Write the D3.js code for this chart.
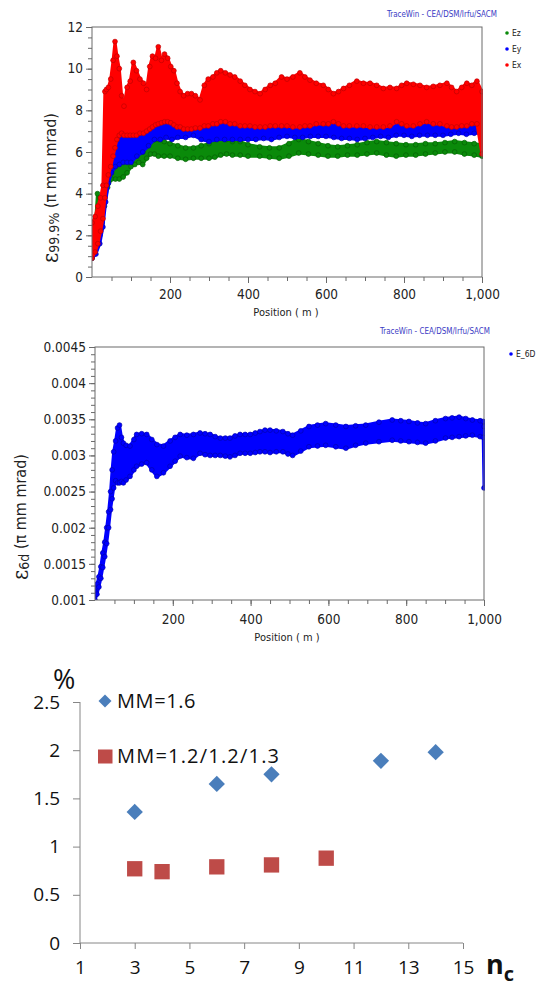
<!DOCTYPE html>
<html>
<head>
<meta charset="utf-8">
<script src="https://cdn.jsdelivr.net/npm/d3@7"></script>
<style>
  html, body { margin: 0; padding: 0; background: #fff; }
  svg { display: block; }
  .tw text { font-family: "DejaVu Sans Condensed", "DejaVu Sans", sans-serif; font-stretch: condensed; fill: #222; }
  .xl text { font-family: "Open Sans", "Noto Sans", sans-serif; fill: #111; }
</style>
</head>
<body>
<svg id="chart" width="538" height="988"></svg>
<script>
// ---------- Emittance envelopes along the linac: [position (m), min, max] ----------
const ezBand = [
  [0, 0.9, 1.5], [8, 1.2, 2.3], [14, 1.6, 4.0], [20, 2.0, 3.8], [26, 2.6, 3.4],
  [32, 3.4, 4.2], [40, 4.3, 5.0], [50, 4.7, 5.4], [60, 4.7, 5.6], [70, 4.7, 5.6],
  [80, 4.8, 5.7], [90, 5.0, 5.7], [100, 5.3, 5.8], [110, 5.4, 5.9], [120, 5.5, 6.0],
  [130, 5.4, 6.0], [140, 5.7, 6.4], [150, 5.9, 6.5], [160, 5.9, 6.6], [170, 5.8, 6.6],
  [185, 5.8, 6.5], [200, 5.8, 6.4], [220, 5.7, 6.3], [240, 5.65, 6.2], [260, 5.7, 6.2],
  [280, 5.7, 6.3], [300, 5.7, 6.4], [315, 5.75, 6.6], [330, 5.85, 6.8], [345, 5.9, 6.6],
  [360, 5.85, 6.5], [380, 5.85, 6.5], [400, 5.8, 6.35], [430, 5.8, 6.25], [455, 5.75, 6.2],
  [480, 5.7, 6.2], [505, 5.8, 6.4], [530, 5.95, 6.6], [555, 5.9, 6.5], [580, 5.85, 6.4],
  [605, 5.8, 6.3], [630, 5.8, 6.25], [655, 5.85, 6.3], [680, 5.85, 6.35], [705, 5.9, 6.45],
  [730, 5.95, 6.5], [755, 5.85, 6.45], [780, 5.8, 6.4], [805, 5.85, 6.35], [830, 5.85, 6.35],
  [855, 5.9, 6.4], [880, 5.95, 6.4], [905, 6.0, 6.45], [930, 6.0, 6.5], [955, 5.9, 6.45],
  [980, 5.85, 6.4], [1000, 5.8, 6.35]
];

const eyBand = [
  [0, 0.9, 1.6], [10, 1.1, 2.0], [20, 1.6, 2.8], [28, 2.4, 3.8], [35, 3.6, 5.0],
  [42, 4.5, 6.2], [50, 5.0, 6.8], [60, 5.3, 7.0], [70, 5.4, 7.0], [80, 5.5, 7.1],
  [90, 5.5, 7.0], [100, 5.5, 6.9], [115, 5.8, 7.2], [130, 6.0, 7.4], [145, 6.3, 7.6],
  [160, 6.6, 7.8], [175, 6.6, 7.9], [190, 6.7, 8.0], [205, 6.6, 7.7], [220, 6.7, 7.6],
  [240, 6.7, 7.5], [260, 6.8, 7.5], [280, 6.6, 7.5], [300, 6.5, 7.5], [320, 6.6, 7.6],
  [340, 6.6, 7.7], [360, 6.6, 7.6], [380, 6.6, 7.5], [400, 6.6, 7.5], [420, 6.6, 7.6],
  [440, 6.65, 7.6], [460, 6.6, 7.7], [480, 6.7, 7.6], [500, 6.75, 7.6], [520, 6.7, 7.5],
  [540, 6.7, 7.7], [560, 6.75, 7.6], [580, 6.75, 7.5], [600, 6.75, 7.5], [620, 6.7, 7.6],
  [640, 6.65, 7.6], [660, 6.65, 7.5], [680, 6.6, 7.5], [700, 6.65, 7.5], [720, 6.7, 7.6],
  [740, 6.75, 7.5], [760, 6.7, 7.6], [780, 6.8, 7.8], [800, 6.8, 7.9], [820, 6.75, 7.7],
  [840, 6.8, 7.6], [860, 6.8, 7.7], [880, 6.8, 7.6], [900, 6.8, 7.7], [920, 6.85, 7.7],
  [940, 6.9, 7.6], [960, 6.85, 7.7], [980, 6.9, 7.8], [1000, 6.9, 7.6]
];

const exBand = [
  [0, 0.9, 2.6], [8, 1.2, 2.9], [15, 1.6, 3.4], [22, 2.2, 3.8], [28, 2.8, 4.4],
  [33, 3.8, 8.9], [37, 4.4, 9.0], [42, 4.9, 9.1], [48, 5.3, 9.5], [54, 5.8, 10.4],
  [59, 6.2, 11.3], [64, 6.6, 10.6], [70, 6.8, 10.0], [76, 6.9, 8.7], [82, 6.8, 8.2],
  [90, 6.8, 9.1], [98, 6.8, 9.4], [106, 6.8, 10.3], [114, 6.8, 9.9], [123, 6.9, 9.5],
  [132, 6.9, 9.3], [140, 7.0, 9.0], [148, 7.1, 10.1], [155, 7.2, 10.6], [163, 7.3, 10.5],
  [170, 7.35, 11.05], [178, 7.4, 10.4], [186, 7.45, 10.7], [194, 7.45, 10.5], [202, 7.4, 10.1],
  [210, 7.3, 9.9], [218, 7.2, 9.3], [226, 7.2, 8.9], [235, 7.1, 8.7], [245, 7.1, 8.8],
  [255, 7.1, 8.8], [265, 7.15, 8.7], [277, 7.15, 8.5], [288, 7.25, 9.2], [298, 7.25, 9.5],
  [310, 7.35, 9.6], [320, 7.35, 9.8], [330, 7.45, 9.9], [342, 7.45, 9.8], [354, 7.35, 9.7],
  [366, 7.35, 9.6], [380, 7.25, 9.4], [392, 7.25, 9.2], [405, 7.25, 9.0], [418, 7.2, 8.9],
  [431, 7.2, 8.8], [444, 7.2, 9.0], [457, 7.25, 9.2], [470, 7.25, 9.3], [486, 7.25, 9.6],
  [500, 7.25, 9.5], [515, 7.2, 9.6], [533, 7.2, 9.8], [546, 7.25, 9.6], [559, 7.25, 9.45],
  [575, 7.35, 9.3], [593, 7.35, 9.2], [606, 7.35, 9.0], [619, 7.45, 8.8], [632, 7.35, 8.9],
  [645, 7.25, 9.05], [660, 7.25, 9.2], [679, 7.25, 9.4], [696, 7.25, 9.3], [713, 7.2, 9.3],
  [730, 7.2, 9.2], [747, 7.2, 9.05], [764, 7.25, 9.1], [781, 7.45, 9.05], [794, 7.35, 9.2],
  [807, 7.25, 9.3], [824, 7.25, 9.25], [841, 7.35, 9.2], [858, 7.45, 9.1], [875, 7.35, 9.15],
  [892, 7.35, 9.2], [910, 7.25, 9.3], [922, 7.2, 9.1], [935, 7.2, 8.9], [948, 7.25, 9.1],
  [961, 7.25, 9.3], [974, 7.35, 9.2], [987, 7.35, 9.4], [1000, 5.9, 8.9]
];

const e6dBand = [
  [0, 0.00100, 0.00112], [5, 0.00108, 0.00122], [10, 0.00118, 0.00132], [15, 0.00130, 0.00146],
  [20, 0.00145, 0.00165], [25, 0.00160, 0.00180], [30, 0.00178, 0.00200], [35, 0.00200, 0.00222],
  [40, 0.00225, 0.00250], [44, 0.00240, 0.00280], [48, 0.00255, 0.00305], [53, 0.00265, 0.00320],
  [58, 0.00262, 0.00338], [63, 0.00262, 0.00342], [68, 0.00264, 0.00325], [73, 0.00262, 0.00317],
  [80, 0.00266, 0.00314], [90, 0.00271, 0.00313], [100, 0.00280, 0.00322], [107, 0.00285, 0.00329],
  [120, 0.00288, 0.00330], [133, 0.00290, 0.00329], [146, 0.00280, 0.00322], [159, 0.00271, 0.00315],
  [176, 0.00276, 0.00313], [193, 0.00285, 0.00320], [206, 0.00292, 0.00325], [219, 0.00299, 0.00329],
  [236, 0.00297, 0.00328], [253, 0.00296, 0.00329], [270, 0.00303, 0.00331], [283, 0.00301, 0.00330],
  [296, 0.00300, 0.00329], [309, 0.00300, 0.00326], [322, 0.00300, 0.00324], [335, 0.00299, 0.00324],
  [347, 0.00298, 0.00324], [360, 0.00300, 0.00327], [373, 0.00303, 0.00329], [386, 0.00303, 0.00329],
  [399, 0.00303, 0.00329], [412, 0.00304, 0.00331], [424, 0.00305, 0.00333], [437, 0.00305, 0.00335],
  [450, 0.00304, 0.00335], [466, 0.00305, 0.00334], [483, 0.00305, 0.00333], [496, 0.00302, 0.00330],
  [508, 0.00300, 0.00328], [529, 0.00306, 0.00334], [550, 0.00312, 0.00340], [572, 0.00313, 0.00342],
  [593, 0.00314, 0.00344], [619, 0.00312, 0.00342], [645, 0.00310, 0.00340], [670, 0.00314, 0.00341],
  [696, 0.00317, 0.00342], [730, 0.00319, 0.00346], [764, 0.00321, 0.00349], [786, 0.00320, 0.00348],
  [807, 0.00319, 0.00347], [829, 0.00318, 0.00345], [850, 0.00317, 0.00344], [875, 0.00320, 0.00348],
  [901, 0.00324, 0.00351], [918, 0.00325, 0.00352], [936, 0.00326, 0.00353], [953, 0.00327, 0.00351],
  [970, 0.00328, 0.00349], [990, 0.00326, 0.00348], [998, 0.00325, 0.00347], [1000, 0.00255, 0.00340]
];

const positionTicks = [200, 400, 600, 800, 1000];
const emitTicks = [0, 2, 4, 6, 8, 10, 12];
const e6dTicks = [0.001, 0.0015, 0.002, 0.0025, 0.003, 0.0035, 0.004, 0.0045];

// ---------- Losses versus number of cells ----------
const ncTicks = [1, 3, 5, 7, 9, 11, 13, 15];
const pctTicks = [0, 0.5, 1, 1.5, 2, 2.5];
const mm16 = [[3, 1.36], [6, 1.65], [8, 1.75], [12, 1.89], [14, 1.98]];
const mm12 = [[3, 0.77], [4, 0.74], [6, 0.79], [8, 0.81], [10, 0.88]];

const svg = d3.select("#chart");

function traceWinPanel(opt) {
  const g = svg.append("g").attr("class", "tw");
  const x = d3.scaleLinear().domain([0, 1000]).range([opt.left, opt.right]);
  const y = d3.scaleLinear().domain(opt.yDomain).range([opt.bottom, opt.top]);

  const clipId = "clip" + opt.id;
  svg.append("clipPath").attr("id", clipId).append("rect")
    .attr("x", opt.left).attr("y", opt.top)
    .attr("width", opt.right - opt.left + 1).attr("height", opt.bottom - opt.top);

  const plot = g.append("g").attr("clip-path", `url(#${clipId})`);
  opt.series.forEach(s => {
    const area = d3.area().x(d => x(d[0])).y0(d => y(d[1])).y1(d => y(d[2]));
    plot.append("path").datum(s.data).attr("d", area)
      .attr("fill", s.color).attr("stroke", s.color)
      .attr("stroke-width", 3).attr("stroke-linejoin", "round");
    const pts = s.data.flatMap(d => [[d[0], d[1]], [d[0], d[2]]]);
    plot.selectAll(null).data(pts).join("circle")
      .attr("cx", d => x(d[0])).attr("cy", d => y(d[1])).attr("r", 2.4)
      .attr("fill", s.color).attr("stroke", s.edge).attr("stroke-width", 0.7);
  });

  // frame
  g.append("rect").attr("x", opt.left).attr("y", opt.top)
    .attr("width", opt.right - opt.left).attr("height", opt.bottom - opt.top)
    .attr("fill", "none").attr("stroke", "#6a6a6a").attr("stroke-width", 1);

  // x axis: minor then major
  g.append("g").attr("transform", `translate(0,${opt.bottom})`)
    .call(d3.axisBottom(x).tickValues(d3.range(50, 1001, 50)).tickSize(4).tickFormat(""))
    .call(a => a.select(".domain").remove())
    .call(a => a.selectAll("line").attr("stroke", "#6a6a6a"));
  g.append("g").attr("transform", `translate(0,${opt.bottom})`)
    .call(d3.axisBottom(x).tickValues(positionTicks).tickSize(6).tickPadding(opt.xPad).tickFormat(d3.format(",")))
    .call(a => a.select(".domain").remove())
    .call(a => a.selectAll("line").attr("stroke", "#6a6a6a"))
    .call(a => a.selectAll("text").attr("font-size", 13.5).style("fill", "#222"));

  // y axis: minor then major
  g.append("g").attr("transform", `translate(${opt.left},0)`)
    .call(d3.axisLeft(y).tickValues(opt.yMinor).tickSize(4).tickFormat(""))
    .call(a => a.select(".domain").remove())
    .call(a => a.selectAll("line").attr("stroke", "#6a6a6a"));
  g.append("g").attr("transform", `translate(${opt.left},0)`)
    .call(d3.axisLeft(y).tickValues(opt.yTicks).tickSize(6).tickPadding(opt.yPad).tickFormat(opt.yFormat))
    .call(a => a.select(".domain").remove())
    .call(a => a.selectAll("line").attr("stroke", "#6a6a6a"))
    .call(a => a.selectAll("text").attr("font-size", 13.5).style("fill", "#222"));

  // axis titles
  g.append("text").attr("x", opt.xLabelX).attr("y", opt.xLabelY)
    .attr("text-anchor", "middle").attr("font-size", 11).text("Position ( m )");

  const yl = g.append("text")
    .attr("transform", `translate(${opt.yLabelX},${opt.yLabelY}) rotate(-90)`)
    .attr("text-anchor", "middle").attr("dominant-baseline", "central");
  yl.append("tspan").attr("font-size", 22).attr("font-family", "DejaVu Serif, serif").text("ε");
  yl.append("tspan").attr("font-size", 14).attr("dy", 4).text(opt.yLabelSub);
  yl.append("tspan").attr("font-size", 16).attr("dy", -4).text(" (π mm mrad)");

  // software credit
  g.append("text").attr("x", opt.creditX).attr("y", opt.creditY)
    .attr("font-size", 8).attr("textLength", 110).attr("lengthAdjust", "spacingAndGlyphs")
    .style("fill", "#3b3bc4").text("TraceWin - CEA/DSM/Irfu/SACM");

  // legend
  opt.legend.forEach((s, i) => {
    const ly = opt.legendY + i * 16;
    g.append("circle").attr("cx", opt.legendX).attr("cy", ly).attr("r", 1.8).attr("fill", s.color);
    g.append("text").attr("x", opt.legendX + 5).attr("y", ly).attr("dominant-baseline", "central")
      .attr("font-size", 8.5).text(s.name);
  });
}

traceWinPanel({
  id: 1, left: 92, right: 482, top: 27, bottom: 277,
  yDomain: [0, 12], yTicks: emitTicks, yMinor: d3.range(0, 12.01, 0.5), yFormat: d3.format("d"),
  xPad: 6, yPad: 3,
  series: [
    { data: ezBand, color: "#0a8a0a", edge: "#066006" },
    { data: eyBand, color: "#0000ff", edge: "#0000b0" },
    { data: exBand, color: "#ff0000", edge: "#c00000" }
  ],
  xLabelX: 286, xLabelY: 316,
  yLabelX: 50, yLabelY: 188, yLabelSub: "99.9%",
  creditX: 387, creditY: 17,
  legend: [{ name: "Ez", color: "#0a8a0a" }, { name: "Ey", color: "#0000ff" }, { name: "Ex", color: "#ff0000" }],
  legendX: 507, legendY: 33
});

traceWinPanel({
  id: 2, left: 95, right: 484, top: 347, bottom: 600,
  yDomain: [0.001, 0.0045], yTicks: e6dTicks, yMinor: d3.range(10, 46).map(v => v / 10000),
  yFormat: d => String(+d.toFixed(4)),
  xPad: 8, yPad: 3,
  series: [{ data: e6dBand, color: "#0000ff", edge: "#0000b0" }],
  xLabelX: 287, xLabelY: 641,
  yLabelX: 20, yLabelY: 517, yLabelSub: "6d",
  creditX: 380, creditY: 334,
  legend: [{ name: "E_6D", color: "#0000ff" }],
  legendX: 511, legendY: 354
});

// ---------- Bottom panel: losses (%) versus n_c ----------
(function () {
  const g = svg.append("g").attr("class", "xl");
  const x = d3.scaleLinear().domain([1, 15]).range([80, 463]);
  const y = d3.scaleLinear().domain([0, 2.5]).range([943, 702]);
  const axisColor = "#868686";

  g.append("g").attr("transform", "translate(80,0)")
    .call(d3.axisLeft(y).tickValues(pctTicks).tickSize(7).tickPadding(13).tickFormat(d3.format("")))
    .call(a => a.select(".domain").attr("stroke", axisColor).attr("d", `M0,${y(2.5)}V${y(0)}`))
    .call(a => a.selectAll("line").attr("stroke", axisColor))
    .call(a => a.selectAll("text").attr("font-size", 19).style("fill", "#111"));

  g.append("g").attr("transform", "translate(0,943)")
    .call(d3.axisBottom(x).tickValues(ncTicks).tickSize(6).tickPadding(12).tickFormat(d3.format("d")))
    .call(a => a.select(".domain").attr("stroke", axisColor).attr("d", `M${x(1)},0H${x(15)}`))
    .call(a => a.selectAll("line").attr("stroke", axisColor))
    .call(a => a.selectAll("text").attr("font-size", 19).style("fill", "#111"));

  g.selectAll(null).data(mm16).join("path")
    .attr("d", d3.symbol(d3.symbolSquare, 133))
    .attr("transform", d => `translate(${x(d[0])},${y(d[1])}) rotate(45)`)
    .attr("fill", "#4a7ebb");
  g.selectAll(null).data(mm12).join("path")
    .attr("d", d3.symbol(d3.symbolSquare, 235))
    .attr("transform", d => `translate(${x(d[0])},${y(d[1])})`)
    .attr("fill", "#be4b48");

  // legend
  g.append("path").attr("d", d3.symbol(d3.symbolSquare, 85))
    .attr("transform", "translate(105,701) rotate(45)").attr("fill", "#4a7ebb");
  g.append("text").attr("x", 117).attr("y", 708).attr("font-size", 20)
    .attr("letter-spacing", 0.6).text("MM=1.6");
  g.append("rect").attr("x", 98).attr("y", 749.5).attr("width", 14.5).attr("height", 14)
    .attr("fill", "#be4b48");
  g.append("text").attr("x", 117).attr("y", 763).attr("font-size", 20)
    .attr("letter-spacing", 1.2).text("MM=1.2/1.2/1.3");

  // axis titles
  g.append("text").attr("x", 53).attr("y", 689).attr("font-size", 27).text("%");
  const nc = g.append("text").attr("x", 486).attr("y", 974).attr("font-weight", "bold");
  nc.append("tspan").attr("font-size", 27).text("n");
  nc.append("tspan").attr("font-size", 20).attr("dy", 7).text("c");
})();
</script>
</body>
</html>
